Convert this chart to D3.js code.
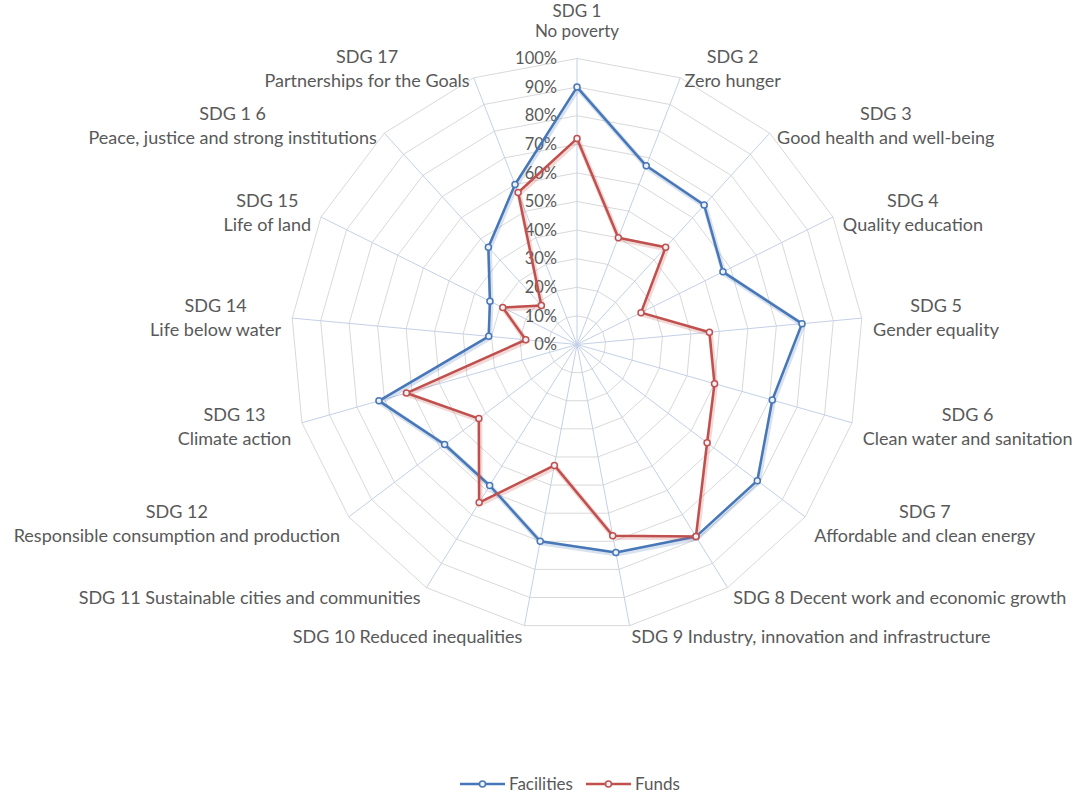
<!DOCTYPE html>
<html>
<head>
<meta charset="utf-8">
<script src="https://cdn.jsdelivr.net/npm/d3@7"></script>
<style>
  html, body { margin: 0; padding: 0; background: #ffffff; }
  svg { display: block; }
  text { font-family: Lato, "Open Sans", sans-serif; fill: #595959; }
</style>
</head>
<body>
<svg id="chart" width="1078" height="794"></svg>
<script>
// ---- data ----
const categories = [
  ["SDG 1", "No poverty"],
  ["SDG 2", "Zero hunger"],
  ["SDG 3", "Good health and well-being"],
  ["SDG 4", "Quality education"],
  ["SDG 5", "Gender equality"],
  ["SDG 6", "Clean water and sanitation"],
  ["SDG 7", "Affordable and clean energy"],
  ["SDG 8 Decent work and economic growth"],
  ["SDG 9 Industry, innovation and infrastructure"],
  ["SDG 10 Reduced inequalities"],
  ["SDG 11 Sustainable cities and communities"],
  ["SDG 12", "Responsible consumption and production"],
  ["SDG 13", "Climate action"],
  ["SDG 14", "Life below water"],
  ["SDG 15", "Life of land"],
  ["SDG 1 6", "Peace, justice and strong institutions"],
  ["SDG 17", "Partnerships for the Goals"]
];
const facilities = [90, 67, 66, 57, 79, 71, 79, 79, 74, 70, 58, 58, 72, 31, 34, 46, 60];
const funds      = [72, 40, 46, 25, 46.5, 50, 57, 79, 68, 43, 65, 43, 62, 18, 29, 18.5, 57];
const tickValues = [0, 10, 20, 30, 40, 50, 60, 70, 80, 90, 100];
const tickLabels = ["0%", "10%", "20%", "30%", "40%", "50%", "60%", "70%", "80%", "90%", "100%"];
const seriesNames = ["Facilities", "Funds"];
const seriesColors = ["#4777b6", "#c0504d"];

// ---- layout ----
const svg = d3.select("#chart");
const cx = 577, cy = 344.5, R = 286;
const n = categories.length;
const angle = d3.scaleLinear().domain([0, n]).range([0, 2 * Math.PI]);
const r = d3.scaleLinear().domain([0, 100]).range([0, R]);
const pt = (i, v) => [cx + r(v) * Math.sin(angle(i)), cy - r(v) * Math.cos(angle(i))];

const g = svg.append("g");

// grid polygons
tickValues.forEach(t => {
  if (t === 0) return;
  const pts = d3.range(n).map(i => pt(i, t));
  g.append("polygon")
    .attr("points", pts.map(p => p.join(",")).join(" "))
    .attr("fill", "none")
    .attr("stroke", "#d9d9d9")
    .attr("stroke-width", 1);
});
// spokes
d3.range(n).forEach(i => {
  const [x, y] = pt(i, 100);
  g.append("line")
    .attr("x1", cx).attr("y1", cy).attr("x2", x).attr("y2", y)
    .attr("stroke", "#c3d0e6").attr("stroke-width", 1);
});

// tick labels
g.selectAll("text.tick").data(tickValues).enter().append("text")
  .attr("class", "tick")
  .attr("x", cx - 20)
  .attr("y", d => cy - r(d))
  .attr("dy", "0.35em")
  .attr("text-anchor", "end")
  .style("font-size", "16.5px")
  .text((d, i) => tickLabels[i]);

// series
const line = d3.line().curve(d3.curveLinearClosed);
[facilities, funds].forEach((vals, s) => {
  const pts = vals.map((v, i) => pt(i, v));
  g.append("path")
    .attr("d", line(pts))
    .attr("fill", "none")
    .attr("stroke", seriesColors[s])
    .attr("stroke-opacity", 0.22)
    .attr("stroke-width", 5)
    .attr("transform", "translate(1,1.5)");
  g.append("path")
    .attr("d", line(pts))
    .attr("fill", "none")
    .attr("stroke", seriesColors[s])
    .attr("stroke-width", 2.5)
    .attr("stroke-linejoin", "round");
  g.selectAll(null).data(pts).enter().append("circle")
    .attr("cx", d => d[0]).attr("cy", d => d[1])
    .attr("r", 3)
    .attr("fill", "#eef2f8")
    .attr("stroke", seriesColors[s])
    .attr("stroke-width", 1.5);
});

// category labels
const lineH = 24, pad = 11;
categories.forEach((lines, i) => {
  const a = angle(i);
  const s = Math.sin(a), c = Math.cos(a);
  const ax = cx + (R + pad) * s, ay = cy - (R + pad) * c;
  const isTop = Math.abs(s) < 0.05 && c > 0;
  const t = g.append("text").style("font-size", isTop ? "17px" : "18px").attr("text-anchor", "middle");
  lines.forEach((L, k) => t.append("tspan").attr("x", 0).attr("dy", k === 0 ? 0 : lineH).text(L));
  const w = t.node().getBBox().width;
  const h = lines.length * lineH;
  let bx;
  if (Math.abs(s) < 0.05) bx = ax;
  else if (s > 0) bx = ax + w / 2;
  else bx = ax - w / 2;
  let firstY = ay - h / 2 + lineH / 2;
  if (isTop) {
    // top label: last line close to the outer ring, first line kept inside the page
    const lastY = ay - 17;
    firstY = Math.max(lastY - lineH, 10.5);
    t.selectAll("tspan").attr("dy", (d, k) => k === 0 ? 0 : (lastY - firstY));
  }
  t.attr("transform", `translate(${bx},${firstY})`);
  t.selectAll("tspan").attr("dominant-baseline", "central");
});

// legend
const legY = 784;
const legend = svg.append("g");
let lx = 460;
seriesNames.forEach((name, s) => {
  legend.append("line").attr("x1", lx).attr("x2", lx + 45).attr("y1", legY).attr("y2", legY)
    .attr("stroke", seriesColors[s]).attr("stroke-width", 2.5);
  legend.append("circle").attr("cx", lx + 22.5).attr("cy", legY).attr("r", 3)
    .attr("fill", "#eef2f8").attr("stroke", seriesColors[s]).attr("stroke-width", 1.5);
  const tx = legend.append("text").attr("x", lx + 49).attr("y", legY).attr("dy", "0.35em")
    .style("font-size", "17px").text(name);
  lx = lx + 49 + tx.node().getComputedTextLength() + 13;
});
</script>
</body>
</html>
